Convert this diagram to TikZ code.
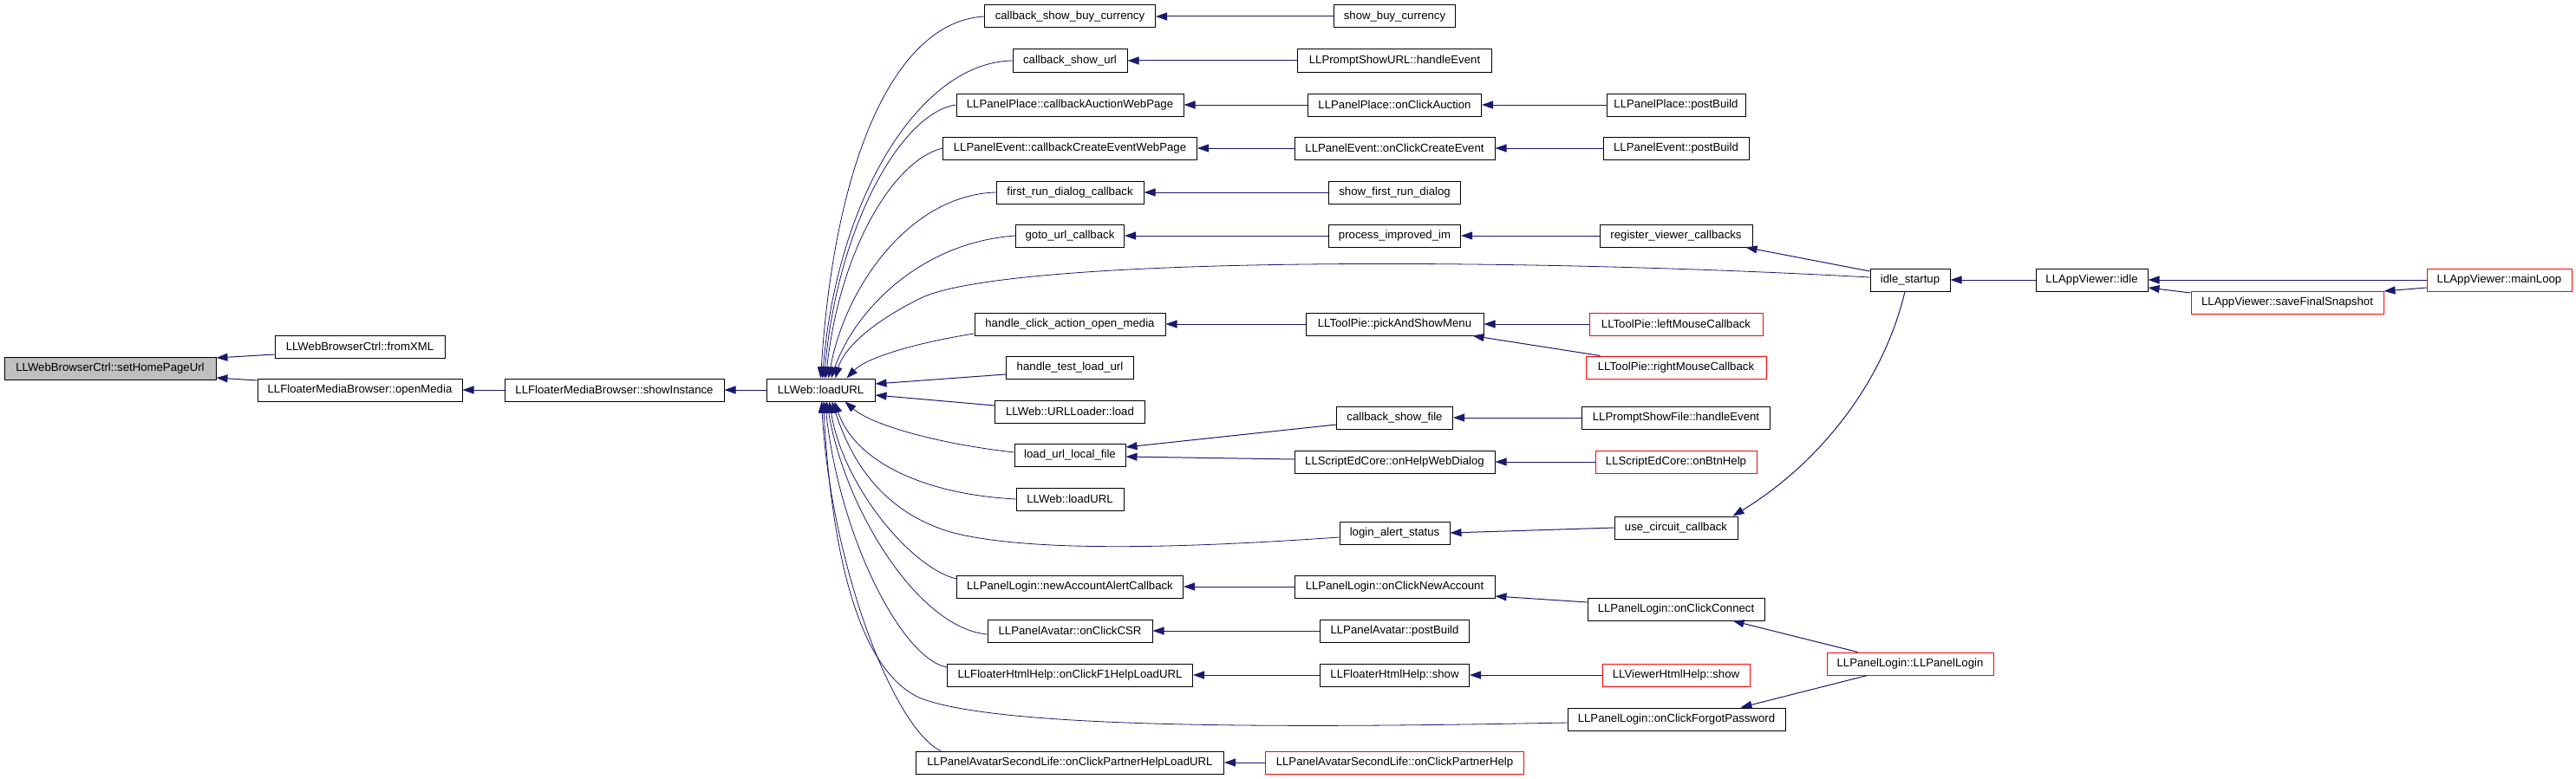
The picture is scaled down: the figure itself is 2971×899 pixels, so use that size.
\documentclass[tikz,border=0pt]{standalone}
\usepackage{fontspec}
\setmainfont{Liberation Sans}
\usetikzlibrary{arrows.meta}
\definecolor{edgec}{HTML}{191970}
\definecolor{rootgray}{HTML}{BFBFBF}
\begin{document}
\begin{tikzpicture}[x=1pt,y=-1pt,
  fn/.style={draw=black, line width=1pt, minimum height=26pt, inner sep=2pt, font=\fontsize{13.2}{15}\selectfont, anchor=center},
  redfn/.style={fn, draw=red},
  rootfn/.style={fn, fill=rootgray},
  e/.style={draw=edgec, line width=1pt, -{Triangle[length=13pt,width=9pt]}},
  ec/.style={e, line width=0.8pt}]
\useasboundingbox (0,0) rectangle (2971,899);
\fill[white] (0,0) rectangle (2971,899);
% column 0-3
\node[rootfn, minimum width=244pt] (hp) at (127,425) {LLWebBrowserCtrl::setHomePageUrl};
\node[fn, minimum width=196pt] (fx) at (415,400) {LLWebBrowserCtrl::fromXML};
\node[fn, minimum width=236pt] (om) at (415,450) {LLFloaterMediaBrowser::openMedia};
\node[fn, minimum width=253pt] (si) at (708.5,450) {LLFloaterMediaBrowser::showInstance};
\node[fn, minimum width=125pt] (lw) at (946.5,450) {LLWeb::loadURL};
% column 4
\node[fn, minimum width=197pt] (a1) at (1234,19) {callback\_show\_buy\_currency};
\node[fn, minimum width=132pt] (a2) at (1234,70) {callback\_show\_url};
\node[fn, minimum width=262pt] (a3) at (1234,121) {LLPanelPlace::callbackAuctionWebPage};
\node[fn, minimum width=293pt] (a4) at (1234,171) {LLPanelEvent::callbackCreateEventWebPage};
\node[fn, minimum width=170pt] (a5) at (1234,222) {first\_run\_dialog\_callback};
\node[fn, minimum width=125pt] (a6) at (1234,272) {goto\_url\_callback};
\node[fn, minimum width=220pt] (a8) at (1234,374) {handle\_click\_action\_open\_media};
\node[fn, minimum width=147pt] (a9) at (1234,424) {handle\_test\_load\_url};
\node[fn, minimum width=173pt] (a10) at (1234,475) {LLWeb::URLLoader::load};
\node[fn, minimum width=128pt] (a11) at (1234,525) {load\_url\_local\_file};
\node[fn, minimum width=124pt] (a12) at (1234,576) {LLWeb::loadURL};
\node[fn, minimum width=261pt] (a14) at (1234,677) {LLPanelLogin::newAccountAlertCallback};
\node[fn, minimum width=190pt] (a15) at (1234,728) {LLPanelAvatar::onClickCSR};
\node[fn, minimum width=283pt] (a16) at (1234,779) {LLFloaterHtmlHelp::onClickF1HelpLoadURL};
\node[fn, minimum width=355pt] (a18) at (1234,880) {LLPanelAvatarSecondLife::onClickPartnerHelpLoadURL};
% column 5
\node[fn, minimum width=140pt] (b1) at (1608.5,19) {show\_buy\_currency};
\node[fn, minimum width=224pt] (b2) at (1608.5,70) {LLPromptShowURL::handleEvent};
\node[fn, minimum width=200pt] (b3) at (1608.5,121) {LLPanelPlace::onClickAuction};
\node[fn, minimum width=231pt] (b4) at (1608.5,171) {LLPanelEvent::onClickCreateEvent};
\node[fn, minimum width=152pt] (b5) at (1608.5,222) {show\_first\_run\_dialog};
\node[fn, minimum width=152pt] (b6) at (1608.5,272) {process\_improved\_im};
\node[fn, minimum width=205pt] (b8) at (1608.5,374) {LLToolPie::pickAndShowMenu};
\node[fn, minimum width=134pt] (b11a) at (1608.5,482) {callback\_show\_file};
\node[fn, minimum width=231pt] (b11b) at (1608.5,533) {LLScriptEdCore::onHelpWebDialog};
\node[fn, minimum width=127pt] (b13) at (1608.5,615) {login\_alert\_status};
\node[fn, minimum width=231pt] (b14) at (1608.5,677) {LLPanelLogin::onClickNewAccount};
\node[fn, minimum width=172pt] (b15) at (1608.5,728) {LLPanelAvatar::postBuild};
\node[fn, minimum width=172pt] (b16) at (1608.5,779) {LLFloaterHtmlHelp::show};
\node[redfn, minimum width=298pt] (b18) at (1608.5,880) {LLPanelAvatarSecondLife::onClickPartnerHelp};
% column 6
\node[fn, minimum width=160pt] (c3) at (1933,121) {LLPanelPlace::postBuild};
\node[fn, minimum width=168pt] (c4) at (1933,171) {LLPanelEvent::postBuild};
\node[fn, minimum width=176pt] (c6) at (1933,272) {register\_viewer\_callbacks};
\node[redfn, minimum width=200pt] (c8a) at (1933,374) {LLToolPie::leftMouseCallback};
\node[redfn, minimum width=208pt] (c8b) at (1933,424) {LLToolPie::rightMouseCallback};
\node[fn, minimum width=217pt] (c11a) at (1933,482) {LLPromptShowFile::handleEvent};
\node[redfn, minimum width=186pt] (c11b) at (1933,533) {LLScriptEdCore::onBtnHelp};
\node[fn, minimum width=142pt] (c13) at (1933,609) {use\_circuit\_callback};
\node[fn, minimum width=204pt] (c14) at (1933,703) {LLPanelLogin::onClickConnect};
\node[redfn, minimum width=170pt] (c16) at (1933,779) {LLViewerHtmlHelp::show};
\node[fn, minimum width=251pt] (c17) at (1933.5,830) {LLPanelLogin::onClickForgotPassword};
% columns 7-9
\node[fn, minimum width=92pt] (is) at (2203,323) {idle\_startup};
\node[redfn, minimum width=192pt] (pl) at (2203,766) {LLPanelLogin::LLPanelLogin};
\node[fn, minimum width=129pt] (ai) at (2412.5,323) {LLAppViewer::idle};
\node[redfn, minimum width=222pt] (sf) at (2638,349) {LLAppViewer::saveFinalSnapshot};
\node[redfn, minimum width=167pt] (ml) at (2882.5,323) {LLAppViewer::mainLoop};
% left edges
\draw[e] ([yshift=-9pt]fx.west) -- ([yshift=12pt]hp.east);
\draw[e] ([yshift=11pt]om.west) -- ([yshift=-11pt]hp.east);
\draw[e] (si.west) -- (om.east);
\draw[e] (lw.west) -- (si.east);
% fan into LLWeb::loadURL
\draw[ec] (a1.west) .. controls (1030,25) and (962,190) .. (lw.north);
\draw[ec] (a2.west) .. controls (1060,72) and (965,230) .. ([xshift=2pt]lw.north);
\draw[ec] (a3.west) .. controls (1040,130) and (966,260) .. ([xshift=4pt]lw.north);
\draw[ec] (a4.west) .. controls (1030,185) and (968,290) .. ([xshift=6pt]lw.north);
\draw[ec] (a5.west) .. controls (1050,225) and (975,330) .. ([xshift=9pt]lw.north);
\draw[ec] (a6.west) .. controls (1060,280) and (985,360) .. ([xshift=12pt]lw.north);
\draw[ec] ([yshift=3pt]is.west) .. controls (1700,295) and (1150,298) .. (1060,345) .. controls (1000,375) and (972,405) .. ([xshift=17pt]lw.north);
\draw[ec] ([yshift=-11pt]a8.west) .. controls (1060,395) and (1000,412) .. ([xshift=30pt]lw.north);
\draw[e] ([yshift=-8pt]a9.west) -- ([yshift=7pt]lw.east);
\draw[e] ([yshift=7pt]a10.west) -- ([yshift=-6pt]lw.east);
\draw[ec] ([yshift=3pt]a11.west) .. controls (1080,512) and (1005,490) .. ([xshift=28pt]lw.south);
\draw[ec] (a12.west) .. controls (1060,570) and (985,530) .. ([xshift=16pt]lw.south);
\draw[ec] ([yshift=-5pt]b13.west) .. controls (1400,630) and (1200,640) .. (1100,615) .. controls (1010,590) and (978,520) .. ([xshift=13pt]lw.south);
\draw[ec] ([yshift=9pt]a14.west) .. controls (1050,655) and (972,560) .. ([xshift=10pt]lw.south);
\draw[ec] ([yshift=-4pt]a15.west) .. controls (1060,725) and (975,590) .. ([xshift=7pt]lw.south);
\draw[ec] ([yshift=9pt]a16.west) .. controls (1040,760) and (968,620) .. ([xshift=5pt]lw.south);
\draw[ec] ([yshift=-4pt]c17.west) .. controls (1500,840) and (1150,842) .. (1060,805) .. controls (985,770) and (958,620) .. ([xshift=3pt]lw.south);
\draw[ec] ([xshift=29pt]a18.north west) .. controls (1030,840) and (958,650) .. ([xshift=1pt]lw.south);
% column 5 -> 4
\draw[e] (b1.west) -- (a1.east);
\draw[e] (b2.west) -- (a2.east);
\draw[e] (b3.west) -- (a3.east);
\draw[e] (b4.west) -- (a4.east);
\draw[e] (b5.west) -- (a5.east);
\draw[e] (b6.west) -- (a6.east);
\draw[e] (b8.west) -- (a8.east);
\draw[e] ([yshift=-8pt]b11a.west) -- ([yshift=9pt]a11.east);
\draw[e] ([yshift=3pt]b11b.west) -- ([yshift=-2pt]a11.east);
\draw[e] (b14.west) -- (a14.east);
\draw[e] (b15.west) -- (a15.east);
\draw[e] (b16.west) -- (a16.east);
\draw[e] (b18.west) -- (a18.east);
% column 6 -> 5
\draw[e] (c3.west) -- (b3.east);
\draw[e] (c4.west) -- (b4.east);
\draw[e] (c6.west) -- (b6.east);
\draw[e] (c8a.west) -- (b8.east);
\draw[e] ([xshift=17pt]c8b.north west) -- ([xshift=-13pt]b8.south east);
\draw[e] (c11a.west) -- (b11a.east);
\draw[e] (c11b.west) -- (b11b.east);
\draw[e] (c13.west) -- (b13.east);
\draw[e] ([yshift=8pt]c14.west) -- ([yshift=-11pt]b14.east);
\draw[e] (c16.west) -- (b16.east);
% right part
\draw[e] ([yshift=10pt]is.west) -- ([xshift=-8pt]c6.south east);
\draw[e] ([xshift=-6pt]is.south) .. controls (2170,450) and (2090,540) .. ([xshift=-6pt]c13.north east);
\draw[e] ([xshift=36pt]pl.north west) -- ([xshift=-37pt]c14.south east);
\draw[e] ([xshift=47pt]pl.south west) -- ([xshift=-52pt]c17.north east);
\draw[e] (ai.west) -- (is.east);
\draw[e] (ml.west) -- (ai.east);
\draw[e] ([yshift=11pt]sf.west) -- ([yshift=-9pt]ai.east);
\draw[e] ([yshift=-9pt]ml.west) -- ([yshift=13pt]sf.east);
\end{tikzpicture}
\end{document}
